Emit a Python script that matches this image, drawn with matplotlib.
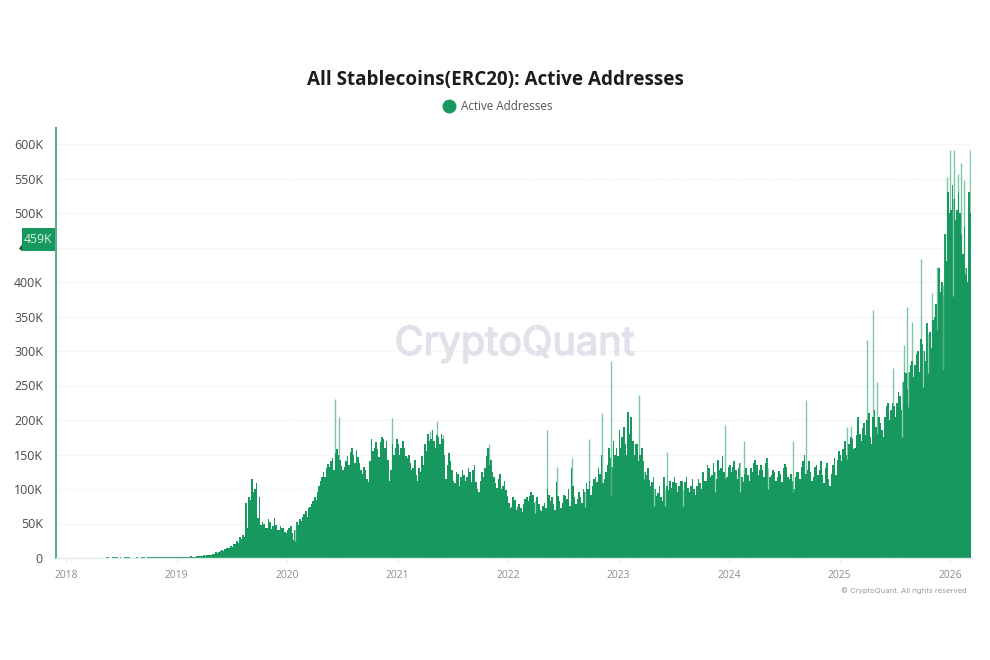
import matplotlib
matplotlib.use('Agg')
import matplotlib.pyplot as plt
from matplotlib.lines import Line2D
from matplotlib.patches import Polygon, Rectangle
import matplotlib.patheffects as pe
import numpy as np

title = 'All Stablecoins(ERC20): Active Addresses'
series_name = 'Active Addresses'
watermark = 'CryptoQuant'
footer = '© CryptoQuant. All rights reserved'
tag_label = '459K'
x_years = [2018, 2019, 2020, 2021, 2022, 2023, 2024, 2025, 2026]
y_ticks = [0, 50, 100, 150, 200, 250, 300, 350, 400, 450, 500, 550, 600]
y_labels = ['0', '50K', '100K', '150K', '200K', '250K', '300K', '350K', '400K', '', '500K', '550K', '600K']

# series values, thousands of addresses, about every ten days
v2018 = [0.1, 0.1, 0.1, 0.1, 0.2, 0.2, 0.2, 0.2, 0.3, 0.3, 0.4, 0.5, 0.6, 0.6, 0.9, 0.7, 0.8, 1.0, 0.8, 0.6, 0.9, 1.0, 0.7, 0.6, 0.7, 0.8, 0.8, 0.9, 0.8, 0.9, 1.0, 1.0, 1.0, 1.1, 1.2, 1.3, 1.4]
v2019 = [1.5, 1.5, 1.5, 2, 2, 2, 2, 2.5, 3, 4, 4, 5, 6, 8, 9, 11, 13, 15, 18, 20, 24, 30, 34, 80, 88, 114, 100, 58, 48, 50, 44, 52, 46, 48, 40, 44, 38]
v2020 = [40, 46, 26, 52, 56, 60, 68, 72, 78, 88, 96, 112, 124, 130, 132, 145, 152, 150, 134, 132, 148, 154, 150, 156, 138, 122, 128, 110, 172, 160, 158, 168, 172, 170, 112, 165, 160]
v2021 = [165, 160, 160, 145, 138, 130, 120, 130, 148, 165, 180, 172, 170, 178, 165, 172, 115, 152, 128, 108, 122, 118, 120, 118, 125, 128, 110, 95, 125, 130, 160, 142, 118, 102, 122, 105, 98]
v2022 = [80, 74, 84, 74, 72, 78, 88, 90, 92, 82, 78, 68, 80, 100, 82, 78, 110, 82, 80, 90, 100, 130, 88, 85, 88, 100, 108, 112, 105, 118, 130, 150, 115, 135, 145, 170, 160]
v2023 = [185, 175, 165, 212, 205, 150, 165, 150, 140, 120, 113, 110, 100, 94, 88, 118, 105, 112, 110, 108, 105, 112, 110, 102, 105, 100, 105, 108, 125, 112, 130, 120, 125, 142, 130, 125, 118]
v2024 = [135, 132, 128, 130, 118, 122, 120, 130, 138, 135, 128, 128, 138, 130, 120, 124, 118, 122, 130, 132, 115, 112, 118, 125, 132, 150, 128, 125, 118, 135, 128, 120, 130, 115, 122, 145, 142]
v2025 = [150, 158, 150, 165, 172, 160, 205, 170, 195, 200, 175, 205, 190, 205, 185, 205, 225, 215, 220, 225, 235, 255, 268, 270, 285, 280, 300, 318, 300, 340, 328, 345, 368, 420, 400, 470, 530]
v2026 = [505, 520, 505, 500, 440, 420, 530]

# readings half a step later than the ones above
w2018 = [0.1, 0.1, 0.1, 0.2, 0.2, 0.2, 0.2, 0.3, 0.3, 0.4, 0.4, 0.6, 0.7, 0.8, 0.6, 0.9, 0.9, 0.7, 0.5, 0.8, 1.1, 0.6, 0.5, 0.8, 0.7, 0.9, 0.7, 1.0, 0.9, 1.0, 0.9, 1.2, 1.1, 1.2, 1.3, 1.2, 1.3]
w2019 = [1.2, 1.8, 1.4, 1.6, 2.2, 1.8, 2.4, 2.2, 3.2, 3.4, 4.5, 4.2, 6.5, 7, 9.5, 10, 14, 14, 16, 21, 22, 28, 31, 44, 84, 96, 108, 88, 52, 44, 56, 42, 58, 41, 46, 43, 36]
w2020 = [43, 36, 40, 48, 54, 64, 60, 74, 82, 84, 104, 118, 118, 136, 140, 128, 158, 142, 128, 140, 135, 160, 138, 146, 128, 132, 115, 140, 155, 168, 146, 176, 160, 142, 128, 150, 172]
w2021 = [150, 170, 148, 150, 128, 142, 112, 125, 135, 155, 170, 185, 160, 175, 180, 150, 135, 140, 112, 125, 105, 128, 112, 130, 110, 135, 100, 112, 118, 148, 135, 125, 108, 115, 100, 112, 90]
w2022 = [72, 88, 70, 78, 66, 85, 82, 95, 80, 88, 70, 75, 72, 92, 88, 70, 90, 72, 92, 85, 75, 105, 78, 95, 80, 95, 100, 92, 115, 110, 122, 108, 125, 160, 132, 150, 148]
w2023 = [160, 190, 150, 180, 170, 165, 140, 160, 125, 130, 105, 118, 90, 105, 82, 100, 98, 102, 118, 95, 112, 98, 118, 95, 115, 92, 115, 100, 112, 135, 118, 138, 115, 128, 148, 115, 132]
w2024 = [125, 140, 115, 138, 110, 130, 112, 124, 142, 120, 135, 118, 145, 118, 128, 112, 126, 110, 136, 118, 122, 100, 125, 115, 140, 122, 140, 112, 132, 120, 140, 108, 138, 105, 135, 120, 155]
w2025 = [140, 170, 142, 175, 158, 178, 180, 188, 178, 210, 165, 215, 180, 195, 175, 220, 200, 225, 205, 240, 215, 270, 245, 280, 262, 295, 270, 310, 285, 325, 305, 350, 330, 385, 380, 430, 500]
w2026 = [540, 490, 530, 470, 480, 400, 500]

# thin lighter peaks above the body
spike_years = [2020.43, 2020.47, 2020.95, 2021.29, 2021.36, 2021.41, 2021.83, 2022.35, 2022.44, 2022.58,
               2022.73, 2022.85, 2022.93, 2023.19, 2023.44, 2023.96, 2024.14, 2024.58, 2024.70, 2025.07,
               2025.10, 2025.16, 2025.25, 2025.30, 2025.34, 2025.48, 2025.58, 2025.61, 2025.66, 2025.74,
               2025.84, 2025.88, 2025.94, 2025.97, 2026.00, 2026.04, 2026.07, 2026.10, 2026.13, 2026.18]
spike_vals = [230, 205, 203, 184, 198, 178, 165, 185, 132, 145,
              173, 210, 285, 236, 154, 193, 170, 169, 229, 190,
              192, 185, 316, 359, 255, 275, 308, 364, 342, 434,
              384, 422, 395, 552, 591, 591, 557, 572, 548, 591]

# thin pale notches cut into the body
dip_years = [2020.07, 2022.24, 2022.70, 2022.93, 2023.23, 2023.32, 2023.42, 2023.58, 2023.87, 2024.10,
             2024.35, 2024.58, 2025.57, 2025.62, 2025.76, 2025.80, 2025.94, 2026.03, 2026.14]
dip_vals = [24, 65, 74, 90, 115, 75, 75, 75, 95, 95,
            100, 95, 176, 219, 248, 268, 272, 379, 412]

GREEN = '#17985f'
W, H = 990, 660
fig = plt.figure(figsize=(W / 100, H / 100), dpi=100, facecolor='white')
L, R, T, B = 55.5, 971.5, 128, 558
ax = fig.add_axes([L / W, 1 - B / H, (R - L) / W, (B - T) / H])
plt.rcParams['font.family'] = ['Open Sans', 'DejaVu Sans']

start, end = 2018 + (L - 66) / 110.5, 2018 + (R - 66) / 110.5
ax.set_xlim(start, end)
ax.set_ylim(0, (B - T) / 0.69)

ax.set_yticks(y_ticks)
ax.set_yticklabels(y_labels, fontsize=8.9, color='#4a4a4a', family='Open Sans')
ax.set_xticks(x_years)
ax.set_xticklabels([str(y) for y in x_years], fontsize=7.4, color='#8c8c8c', family='Open Sans')
ax.tick_params(axis='y', length=0, pad=9)
ax.tick_params(axis='x', length=3, width=0.6, color='#e4e4e4', pad=6)
ax.grid(axis='y', color='#f5f5f5', lw=0.8)
ax.set_axisbelow(True)
for s in ['top', 'right']:
    ax.spines[s].set_visible(False)
ax.spines['left'].set_color('#58b38d')
ax.spines['left'].set_linewidth(1.5)
ax.spines['bottom'].set_color('#dfeee7')
ax.spines['bottom'].set_linewidth(1)

ax.text(0.5015, 0.497, watermark, transform=ax.transAxes, ha='center', va='center', fontsize=28.6,
        color='#e0e2ea', family='Inter', zorder=1,
        path_effects=[pe.withStroke(linewidth=1.1, foreground='#e0e2ea')])

v_years = {2018: v2018, 2019: v2019, 2020: v2020, 2021: v2021, 2022: v2022,
           2023: v2023, 2024: v2024, 2025: v2025}
w_years = {2018: w2018, 2019: w2019, 2020: w2020, 2021: w2021, 2022: w2022,
           2023: w2023, 2024: w2024, 2025: w2025}
for y in v_years:
    vals, other = v_years[y], w_years[y]
    n = len(vals)
    xs = y + np.arange(n) / n
    ax.bar(xs, vals, width=0.55 / n, align='edge', color=GREEN, lw=0, zorder=2)
    ax.bar(xs + 0.5 / n, other, width=0.55 / n, align='edge', color=GREEN, lw=0, zorder=2)
step26 = 10 / 365
xs26 = 2026 + np.arange(len(v2026)) * step26
ax.bar(xs26, v2026, width=step26 * 0.55, align='edge', color=GREEN, lw=0, zorder=2)
ax.bar(xs26 + step26 / 2, w2026, width=step26 * 0.55, align='edge', color=GREEN, lw=0, zorder=2)

ax.vlines(dip_years, dip_vals, 620, color='white', lw=0.9, alpha=0.55, zorder=3)
ax.vlines(spike_years, 0, spike_vals, color=GREEN, lw=1.0, alpha=0.55, zorder=4)

# value tag on the axis
ax_tag = fig.add_axes([0, 0, 1, 1], facecolor='none')
ax_tag.set_xlim(0, W)
ax_tag.set_ylim(H, 0)
ax_tag.axis('off')
tag_y = 239.5
ax_tag.add_patch(Rectangle((22, tag_y - 11.5), 33, 23, color=GREEN, lw=0))
ax_tag.add_patch(Polygon([[22, tag_y + 5], [22, tag_y + 11.5], [19, tag_y + 9]], color='#444444', lw=0))
ax_tag.text(38.5, tag_y, tag_label, ha='center', va='center', fontsize=8.8, color='#d8f0e4', family='Open Sans')

fig.text(495.5 / W, 1 - 80.5 / H, title, ha='center', va='center', fontsize=13.6, fontweight='bold',
         color='#1c1c1c', family='Open Sans')
handle = Line2D([], [], marker='o', ls='', color=GREEN, markersize=9)
fig.legend([handle], [series_name], loc='center', bbox_to_anchor=(495 / W, 1 - 107 / H), frameon=False,
           prop={'family': 'Open Sans', 'size': 8.4}, labelcolor='#555555', handletextpad=0.0)
fig.text(966.5 / W, 1 - 591 / H, footer, ha='right', va='center', fontsize=5.5, color='#9a9a9a', family='Inter')

fig.savefig('out.png', dpi=100)
